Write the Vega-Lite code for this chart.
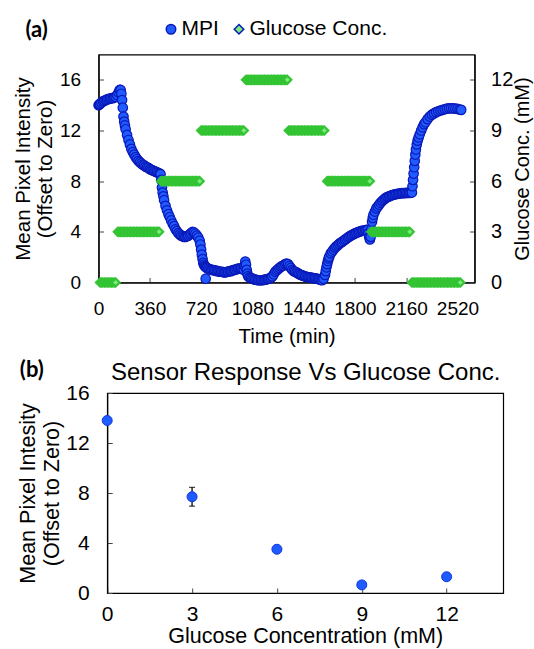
{
  "$schema": "https://vega.github.io/schema/vega-lite/v6.json",
  "padding": {"left": 12.5, "top": 17.5, "right": 0, "bottom": 0},
  "background": "white",
  "config": {
    "font": "Liberation Sans",
    "view": {"stroke": "#000", "strokeWidth": 1.2},
    "axis": {"grid": false, "domainColor": "#000", "domainWidth": 1.2, "tickColor": "#444", "tickSize": -5, "tickWidth": 1, "labelColor": "#000", "titleColor": "#000", "titleFontWeight": "normal", "labelFont": "Liberation Sans", "titleFont": "Liberation Sans", "labelFlush": false, "labelOverlap": false},
    "title": {"color": "#000"}
  },
  "datasets": {
    "mpi": [{"t":0,"v":14.0},{"t":5,"v":14.05},{"t":10,"v":14.1},{"t":20,"v":14.2},{"t":30,"v":14.3},{"t":40,"v":14.35},{"t":50,"v":14.4},{"t":60,"v":14.45},{"t":70,"v":14.5},{"t":80,"v":14.5},{"t":90,"v":14.55},{"t":100,"v":14.55},{"t":110,"v":14.6},{"t":120,"v":14.65},{"t":130,"v":14.8},{"t":140,"v":15.0},{"t":148,"v":15.2},{"t":155,"v":15.2},{"t":160,"v":14.9},{"t":165,"v":14.4},{"t":170,"v":13.8},{"t":175,"v":13.1},{"t":180,"v":12.7},{"t":185,"v":12.4},{"t":190,"v":12.1},{"t":200,"v":11.65},{"t":210,"v":11.25},{"t":220,"v":10.9},{"t":230,"v":10.55},{"t":240,"v":10.3},{"t":250,"v":10.1},{"t":260,"v":9.9},{"t":270,"v":9.75},{"t":280,"v":9.6},{"t":290,"v":9.5},{"t":300,"v":9.4},{"t":310,"v":9.3},{"t":320,"v":9.25},{"t":330,"v":9.15},{"t":340,"v":9.1},{"t":350,"v":9.05},{"t":360,"v":8.95},{"t":370,"v":8.9},{"t":380,"v":8.85},{"t":390,"v":8.8},{"t":400,"v":8.75},{"t":410,"v":8.7},{"t":420,"v":8.65},{"t":430,"v":8.6},{"t":435,"v":8.55},{"t":440,"v":8.1},{"t":445,"v":7.5},{"t":450,"v":7.1},{"t":455,"v":6.8},{"t":460,"v":6.5},{"t":470,"v":6.05},{"t":480,"v":5.7},{"t":490,"v":5.4},{"t":500,"v":5.15},{"t":510,"v":4.9},{"t":520,"v":4.65},{"t":530,"v":4.45},{"t":540,"v":4.2},{"t":550,"v":4.05},{"t":560,"v":3.9},{"t":570,"v":3.8},{"t":580,"v":3.7},{"t":590,"v":3.65},{"t":600,"v":3.6},{"t":610,"v":3.6},{"t":620,"v":3.65},{"t":630,"v":3.7},{"t":640,"v":3.8},{"t":650,"v":3.9},{"t":660,"v":4.0},{"t":670,"v":3.95},{"t":680,"v":3.85},{"t":690,"v":3.7},{"t":700,"v":3.55},{"t":710,"v":3.3},{"t":715,"v":3.0},{"t":720,"v":2.6},{"t":725,"v":2.2},{"t":730,"v":1.85},{"t":735,"v":1.55},{"t":740,"v":1.4},{"t":745,"v":1.3},{"t":750,"v":1.25},{"t":752,"v":0.3},{"t":755,"v":1.2},{"t":760,"v":1.15},{"t":770,"v":1.1},{"t":780,"v":1.05},{"t":790,"v":1.0},{"t":800,"v":1.0},{"t":810,"v":0.95},{"t":820,"v":0.95},{"t":830,"v":0.9},{"t":840,"v":0.9},{"t":850,"v":0.85},{"t":860,"v":0.85},{"t":870,"v":0.85},{"t":880,"v":0.8},{"t":890,"v":0.8},{"t":900,"v":0.85},{"t":910,"v":0.85},{"t":920,"v":0.9},{"t":930,"v":0.9},{"t":940,"v":0.95},{"t":950,"v":1.0},{"t":960,"v":1.0},{"t":970,"v":1.05},{"t":980,"v":1.1},{"t":990,"v":1.1},{"t":1000,"v":1.1},{"t":1010,"v":1.05},{"t":1020,"v":1.0},{"t":1025,"v":1.3},{"t":1030,"v":1.65},{"t":1035,"v":1.4},{"t":1040,"v":1.0},{"t":1045,"v":0.7},{"t":1050,"v":0.5},{"t":1060,"v":0.4},{"t":1070,"v":0.35},{"t":1080,"v":0.3},{"t":1090,"v":0.25},{"t":1100,"v":0.22},{"t":1110,"v":0.2},{"t":1120,"v":0.18},{"t":1130,"v":0.18},{"t":1140,"v":0.18},{"t":1150,"v":0.18},{"t":1160,"v":0.2},{"t":1170,"v":0.22},{"t":1180,"v":0.25},{"t":1190,"v":0.28},{"t":1200,"v":0.32},{"t":1210,"v":0.38},{"t":1220,"v":0.48},{"t":1230,"v":0.65},{"t":1240,"v":0.85},{"t":1250,"v":0.95},{"t":1260,"v":1.05},{"t":1270,"v":1.15},{"t":1280,"v":1.25},{"t":1290,"v":1.3},{"t":1300,"v":1.35},{"t":1310,"v":1.45},{"t":1320,"v":1.5},{"t":1330,"v":1.45},{"t":1340,"v":1.3},{"t":1350,"v":1.15},{"t":1360,"v":1.0},{"t":1370,"v":0.9},{"t":1380,"v":0.85},{"t":1390,"v":0.8},{"t":1400,"v":0.72},{"t":1410,"v":0.66},{"t":1420,"v":0.6},{"t":1430,"v":0.56},{"t":1440,"v":0.52},{"t":1450,"v":0.48},{"t":1460,"v":0.45},{"t":1470,"v":0.42},{"t":1480,"v":0.4},{"t":1490,"v":0.38},{"t":1500,"v":0.36},{"t":1510,"v":0.34},{"t":1520,"v":0.32},{"t":1530,"v":0.3},{"t":1540,"v":0.28},{"t":1550,"v":0.25},{"t":1560,"v":0.2},{"t":1570,"v":0.18},{"t":1580,"v":0.3},{"t":1590,"v":0.6},{"t":1595,"v":0.9},{"t":1600,"v":1.2},{"t":1605,"v":1.45},{"t":1610,"v":1.7},{"t":1615,"v":1.9},{"t":1620,"v":2.05},{"t":1630,"v":2.3},{"t":1640,"v":2.45},{"t":1650,"v":2.6},{"t":1660,"v":2.75},{"t":1670,"v":2.85},{"t":1680,"v":2.95},{"t":1690,"v":3.05},{"t":1700,"v":3.15},{"t":1710,"v":3.2},{"t":1720,"v":3.3},{"t":1730,"v":3.38},{"t":1740,"v":3.45},{"t":1750,"v":3.55},{"t":1760,"v":3.62},{"t":1770,"v":3.7},{"t":1780,"v":3.75},{"t":1790,"v":3.82},{"t":1800,"v":3.88},{"t":1810,"v":3.92},{"t":1820,"v":3.97},{"t":1830,"v":4.0},{"t":1840,"v":4.05},{"t":1850,"v":4.08},{"t":1860,"v":4.1},{"t":1870,"v":4.12},{"t":1880,"v":4.15},{"t":1890,"v":4.15},{"t":1895,"v":3.9},{"t":1900,"v":3.6},{"t":1905,"v":3.4},{"t":1910,"v":3.6},{"t":1915,"v":4.2},{"t":1920,"v":4.8},{"t":1925,"v":5.1},{"t":1930,"v":5.35},{"t":1940,"v":5.6},{"t":1950,"v":5.85},{"t":1960,"v":6.0},{"t":1970,"v":6.15},{"t":1980,"v":6.3},{"t":1990,"v":6.42},{"t":2000,"v":6.52},{"t":2010,"v":6.62},{"t":2020,"v":6.7},{"t":2030,"v":6.76},{"t":2040,"v":6.8},{"t":2050,"v":6.85},{"t":2060,"v":6.9},{"t":2070,"v":6.93},{"t":2080,"v":6.96},{"t":2090,"v":6.98},{"t":2100,"v":7.0},{"t":2110,"v":7.02},{"t":2120,"v":7.04},{"t":2130,"v":7.05},{"t":2140,"v":7.06},{"t":2150,"v":7.06},{"t":2160,"v":7.07},{"t":2170,"v":7.07},{"t":2180,"v":7.08},{"t":2190,"v":7.08},{"t":2200,"v":7.1},{"t":2204,"v":7.6},{"t":2208,"v":8.1},{"t":2212,"v":8.6},{"t":2216,"v":9.1},{"t":2220,"v":9.6},{"t":2224,"v":10.1},{"t":2228,"v":10.5},{"t":2234,"v":10.9},{"t":2240,"v":11.2},{"t":2247,"v":11.45},{"t":2255,"v":11.7},{"t":2265,"v":12.0},{"t":2275,"v":12.25},{"t":2285,"v":12.5},{"t":2295,"v":12.65},{"t":2310,"v":12.9},{"t":2325,"v":13.1},{"t":2340,"v":13.25},{"t":2355,"v":13.35},{"t":2370,"v":13.45},{"t":2385,"v":13.52},{"t":2400,"v":13.58},{"t":2415,"v":13.63},{"t":2430,"v":13.68},{"t":2445,"v":13.72},{"t":2460,"v":13.75},{"t":2475,"v":13.75},{"t":2490,"v":13.74},{"t":2505,"v":13.72},{"t":2520,"v":13.7},{"t":2535,"v":13.66},{"t":2546,"v":13.63}],
    "glu": [{"t":10,"g":0},{"t":20,"g":0},{"t":30,"g":0},{"t":40,"g":0},{"t":50,"g":0},{"t":60,"g":0},{"t":70,"g":0},{"t":80,"g":0},{"t":90,"g":0},{"t":100,"g":0},{"t":110,"g":0},{"t":120,"g":0},
      {"t":135,"g":3},{"t":145,"g":3},{"t":155,"g":3},{"t":165,"g":3},{"t":175,"g":3},{"t":185,"g":3},{"t":195,"g":3},{"t":205,"g":3},{"t":215,"g":3},{"t":225,"g":3},{"t":235,"g":3},{"t":245,"g":3},{"t":255,"g":3},{"t":265,"g":3},{"t":275,"g":3},{"t":285,"g":3},{"t":295,"g":3},{"t":305,"g":3},{"t":315,"g":3},{"t":325,"g":3},{"t":335,"g":3},{"t":345,"g":3},{"t":355,"g":3},{"t":365,"g":3},{"t":375,"g":3},{"t":385,"g":3},{"t":395,"g":3},{"t":405,"g":3},{"t":415,"g":3},{"t":425,"g":3},
      {"t":440,"g":6},{"t":450,"g":6},{"t":460,"g":6},{"t":470,"g":6},{"t":480,"g":6},{"t":490,"g":6},{"t":500,"g":6},{"t":510,"g":6},{"t":520,"g":6},{"t":530,"g":6},{"t":540,"g":6},{"t":550,"g":6},{"t":560,"g":6},{"t":570,"g":6},{"t":580,"g":6},{"t":590,"g":6},{"t":600,"g":6},{"t":610,"g":6},{"t":620,"g":6},{"t":630,"g":6},{"t":640,"g":6},{"t":650,"g":6},{"t":660,"g":6},{"t":670,"g":6},{"t":680,"g":6},{"t":690,"g":6},{"t":700,"g":6},{"t":710,"g":6},
      {"t":720,"g":9},{"t":730,"g":9},{"t":740,"g":9},{"t":750,"g":9},{"t":760,"g":9},{"t":770,"g":9},{"t":780,"g":9},{"t":790,"g":9},{"t":800,"g":9},{"t":810,"g":9},{"t":820,"g":9},{"t":830,"g":9},{"t":840,"g":9},{"t":850,"g":9},{"t":860,"g":9},{"t":870,"g":9},{"t":880,"g":9},{"t":890,"g":9},{"t":900,"g":9},{"t":910,"g":9},{"t":920,"g":9},{"t":930,"g":9},{"t":940,"g":9},{"t":950,"g":9},{"t":960,"g":9},{"t":970,"g":9},{"t":980,"g":9},{"t":990,"g":9},{"t":1000,"g":9},{"t":1010,"g":9},{"t":1020,"g":9},
      {"t":1035,"g":12},{"t":1045,"g":12},{"t":1055,"g":12},{"t":1065,"g":12},{"t":1075,"g":12},{"t":1085,"g":12},{"t":1095,"g":12},{"t":1105,"g":12},{"t":1115,"g":12},{"t":1125,"g":12},{"t":1135,"g":12},{"t":1145,"g":12},{"t":1155,"g":12},{"t":1165,"g":12},{"t":1175,"g":12},{"t":1185,"g":12},{"t":1195,"g":12},{"t":1205,"g":12},{"t":1215,"g":12},{"t":1225,"g":12},{"t":1235,"g":12},{"t":1245,"g":12},{"t":1255,"g":12},{"t":1265,"g":12},{"t":1275,"g":12},{"t":1285,"g":12},{"t":1295,"g":12},{"t":1305,"g":12},{"t":1315,"g":12},{"t":1325,"g":12},
      {"t":1335,"g":9},{"t":1345,"g":9},{"t":1355,"g":9},{"t":1365,"g":9},{"t":1375,"g":9},{"t":1385,"g":9},{"t":1395,"g":9},{"t":1405,"g":9},{"t":1415,"g":9},{"t":1425,"g":9},{"t":1435,"g":9},{"t":1445,"g":9},{"t":1455,"g":9},{"t":1465,"g":9},{"t":1475,"g":9},{"t":1485,"g":9},{"t":1495,"g":9},{"t":1505,"g":9},{"t":1515,"g":9},{"t":1525,"g":9},{"t":1535,"g":9},{"t":1545,"g":9},{"t":1555,"g":9},{"t":1565,"g":9},{"t":1575,"g":9},{"t":1585,"g":9},
      {"t":1605,"g":6},{"t":1615,"g":6},{"t":1625,"g":6},{"t":1635,"g":6},{"t":1645,"g":6},{"t":1655,"g":6},{"t":1665,"g":6},{"t":1675,"g":6},{"t":1685,"g":6},{"t":1695,"g":6},{"t":1705,"g":6},{"t":1715,"g":6},{"t":1725,"g":6},{"t":1735,"g":6},{"t":1745,"g":6},{"t":1755,"g":6},{"t":1765,"g":6},{"t":1775,"g":6},{"t":1785,"g":6},{"t":1795,"g":6},{"t":1805,"g":6},{"t":1815,"g":6},{"t":1825,"g":6},{"t":1835,"g":6},{"t":1845,"g":6},{"t":1855,"g":6},{"t":1865,"g":6},{"t":1875,"g":6},{"t":1885,"g":6},{"t":1895,"g":6},{"t":1905,"g":6},
      {"t":1915,"g":3},{"t":1925,"g":3},{"t":1935,"g":3},{"t":1945,"g":3},{"t":1955,"g":3},{"t":1965,"g":3},{"t":1975,"g":3},{"t":1985,"g":3},{"t":1995,"g":3},{"t":2005,"g":3},{"t":2015,"g":3},{"t":2025,"g":3},{"t":2035,"g":3},{"t":2045,"g":3},{"t":2055,"g":3},{"t":2065,"g":3},{"t":2075,"g":3},{"t":2085,"g":3},{"t":2095,"g":3},{"t":2105,"g":3},{"t":2115,"g":3},{"t":2125,"g":3},{"t":2135,"g":3},{"t":2145,"g":3},{"t":2155,"g":3},{"t":2165,"g":3},{"t":2175,"g":3},{"t":2185,"g":3},
      {"t":2200,"g":0},{"t":2210,"g":0},{"t":2220,"g":0},{"t":2230,"g":0},{"t":2240,"g":0},{"t":2250,"g":0},{"t":2260,"g":0},{"t":2270,"g":0},{"t":2280,"g":0},{"t":2290,"g":0},{"t":2300,"g":0},{"t":2310,"g":0},{"t":2320,"g":0},{"t":2330,"g":0},{"t":2340,"g":0},{"t":2350,"g":0},{"t":2360,"g":0},{"t":2370,"g":0},{"t":2380,"g":0},{"t":2390,"g":0},{"t":2400,"g":0},{"t":2410,"g":0},{"t":2420,"g":0},{"t":2430,"g":0},{"t":2440,"g":0},{"t":2450,"g":0},{"t":2460,"g":0},{"t":2470,"g":0},{"t":2480,"g":0},{"t":2490,"g":0},{"t":2500,"g":0},{"t":2510,"g":0},{"t":2520,"g":0},{"t":2530,"g":0},{"t":2540,"g":0}],
    "resp": [{"c":0,"m":13.8},{"c":3,"m":7.7,"lo":6.95,"hi":8.45},{"c":6,"m":3.5},{"c":9,"m":0.65},{"c":12,"m":1.3}]
  },
  "spacing": 9.5,
  "center": true,
  "vconcat": [
    {
      "width": 376,
      "height": 228,
      "title": {"text": "(a)", "anchor": "start", "frame": "bounds", "font": "Lato", "fontSize": 22, "fontWeight": "bold", "baseline": "alphabetic", "offset": 0, "dx": 12, "dy": 4},
      "layer": [
        {
          "data": {"name": "mpi"},
          "mark": {"type": "point", "filled": true, "size": 90, "opacity": 1, "stroke": "#0a18b8", "strokeWidth": 1.2},
          "encoding": {
            "x": {"field": "t", "type": "quantitative", "scale": {"domain": [0, 2640], "nice": false, "zero": false},
              "axis": {"values": [0, 360, 720, 1080, 1440, 1800, 2160, 2520], "format": "d", "title": "Time (min)", "labelFontSize": 19, "labelPadding": 22, "titleFontSize": 20.5, "titlePadding": 8}},
            "y": {"field": "v", "type": "quantitative", "scale": {"domain": [0, 18], "nice": false},
              "axis": {"values": [0, 4, 8, 12, 16], "title": ["Mean Pixel Intensity", "(Offset to Zero)"], "labelFontSize": 19, "labelPadding": 23, "titleFontSize": 20.5, "titleLineHeight": 22, "titlePadding": 4}},
            "color": {"datum": "MPI", "type": "nominal", "scale": {"domain": ["MPI", "Glucose Conc."], "range": ["#1f5bff", "#7cea7c"]},
              "legend": {"orient": "none", "legendX": 62, "legendY": -36, "direction": "horizontal", "title": null, "labelFontSize": 21, "labelColor": "#000", "symbolSize": 90, "columnPadding": 9, "labelOffset": 0, "padding": 0}},
            "shape": {"datum": "MPI", "type": "nominal", "scale": {"domain": ["MPI", "Glucose Conc."], "range": ["circle", "diamond"]},
              "legend": {"orient": "none", "legendX": 62, "legendY": -36, "direction": "horizontal", "title": null, "labelFontSize": 21, "labelColor": "#000", "symbolSize": 90, "columnPadding": 9, "labelOffset": 0, "padding": 0}}
          }
        },
        {
          "data": {"name": "glu"},
          "mark": {"type": "point", "filled": true, "size": 64, "opacity": 1, "stroke": "#33c433", "strokeWidth": 2.2},
          "encoding": {
            "x": {"field": "t", "type": "quantitative"},
            "y": {"field": "g", "type": "quantitative", "scale": {"domain": [0, 13.5], "nice": false},
              "axis": {"orient": "right", "values": [0, 3, 6, 9, 12], "title": "Glucose Conc. (mM)", "titleAngle": 270, "titleBaseline": "top", "labelFontSize": 20, "labelPadding": 21, "titleFontSize": 20, "titlePadding": 0}},
            "color": {"datum": "Glucose Conc.", "type": "nominal"},
            "shape": {"datum": "Glucose Conc.", "type": "nominal"}
          }
        }
      ],
      "resolve": {"scale": {"y": "independent"}}
    },
    {
      "width": 396,
      "height": 200,
      "title": {"text": "(b)", "anchor": "start", "frame": "bounds", "font": "Lato", "fontSize": 22, "fontWeight": "bold", "baseline": "alphabetic", "offset": 0, "dx": 2, "dy": 39},
      "data": {"name": "resp"},
      "layer": [
        {
          "mark": {"type": "errorbar", "ticks": {"size": 6, "thickness": 1.3}, "color": "#000", "thickness": 1.3},
          "encoding": {
            "x": {"field": "c", "type": "quantitative", "scale": {"domain": [0, 14], "nice": false},
              "axis": {"orient": "bottom", "values": [0, 3, 6, 9, 12], "title": "Glucose Concentration (mM)", "labelFontSize": 21, "labelPadding": 15, "titleFontSize": 21.5, "titlePadding": 1}},
            "y": {"field": "lo", "type": "quantitative", "scale": {"domain": [0, 16], "nice": false},
              "axis": {"orient": "left", "values": [0, 4, 8, 12, 16], "title": ["Mean Pixel Intesity", "(Offset to Zero)"], "labelFontSize": 21, "labelPadding": 23, "titleFontSize": 21.5, "titleLineHeight": 24, "titlePadding": 2}},
            "y2": {"field": "hi"}
          }
        },
        {
          "mark": {"type": "point", "filled": true, "size": 100, "opacity": 1, "color": "#1f5bff", "stroke": "#0a3adf", "strokeWidth": 1},
          "encoding": {
            "x": {"field": "c", "type": "quantitative", "scale": {"domain": [0, 14], "nice": false},
              "axis": {"orient": "top", "title": "Sensor Response Vs Glucose Conc.", "labels": false, "ticks": false, "domain": false, "titleFontSize": 24, "titleBaseline": "alphabetic", "titlePadding": 14}},
            "y": {"field": "m", "type": "quantitative", "scale": {"domain": [0, 16], "nice": false},
              "axis": {"orient": "right", "title": "\u00a0", "labels": false, "ticks": false, "domain": false, "titleFontSize": 16, "titlePadding": 5}}
          }
        }
      ],
      "resolve": {"axis": {"x": "independent", "y": "independent"}}
    }
  ]
}
